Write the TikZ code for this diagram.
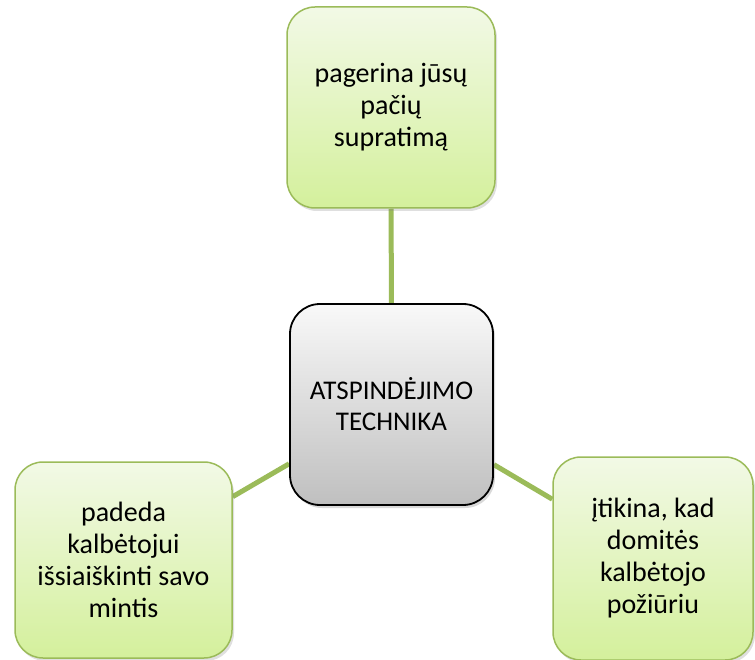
\documentclass[tikz,border=0pt]{standalone}
\usepackage{fontspec}
\setmainfont{Carlito}
\usetikzlibrary{backgrounds,shadows}
\definecolor{leafline}{RGB}{155,187,89}
\definecolor{leaftop}{RGB}{242,249,230}
\definecolor{leafbottom}{RGB}{212,240,156}
\tikzset{
    every node/.style={font=\fontsize{28}{32}\selectfont},
    greenbox/.style={draw=leafline, line width=1.5pt, rounded corners=28pt, top color=leaftop, bottom color=leafbottom, align=center, inner sep=4pt, drop shadow={opacity=0.25, shadow xshift=2pt, shadow yshift=-3pt}},
    graybox/.style={draw=black, line width=1.8pt, rounded corners=30pt, top color=gray!5, bottom color=gray!50, align=center, minimum width=203pt, minimum height=201pt, font=\fontsize{27}{31}\selectfont, drop shadow={opacity=0.3, shadow xshift=2pt, shadow yshift=-3pt}},
    link/.style={leafline, line width=5pt},
}

\begin{document}
\begin{tikzpicture}[x=1pt, y=1pt]
  \useasboundingbox (0,0) rectangle (755,-660);
  \node[graybox] (center) at (391.5,-404.5) {ATSPINDĖJIMO\\TECHNIKA};
  \node[greenbox, minimum width=208pt, minimum height=201pt] (top) at (391,-107.5) {pagerina jūsų\\pačių\\supratimą};
  \node[greenbox, minimum width=217pt, minimum height=196pt] (left) at (123.5,-560) {padeda\\kalbėtojui\\išsiaiškinti savo\\mintis};
  \node[greenbox, minimum width=200pt, minimum height=203pt] (right) at (653,-558.5) {įtikina, kad\\domitės\\kalbėtojo\\požiūriu};
  \begin{scope}[on background layer]
    \draw[link] (top) -- (center);
    \draw[link] (left) -- (center);
    \draw[link] (right) -- (center);
  \end{scope}
\end{tikzpicture}
\end{document}
